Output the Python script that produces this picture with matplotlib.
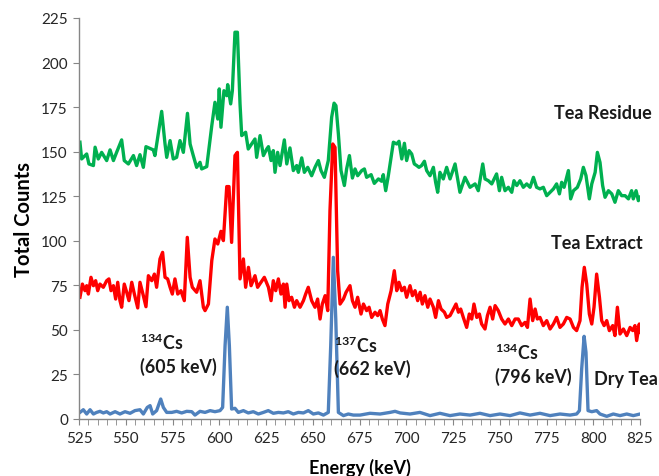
import matplotlib
matplotlib.use("Agg")
import matplotlib.pyplot as plt
from matplotlib.ticker import MultipleLocator

plt.rcParams['font.family'] = ['Lato', 'DejaVu Sans']
plt.rcParams['mathtext.fontset'] = 'custom'
plt.rcParams['mathtext.rm'] = 'Lato:bold'
plt.rcParams['mathtext.bf'] = 'Lato:bold'

# Tea Residue (green)
residue_energy = [525.5, 526.4, 529.1, 530.3, 532.7, 533.6, 535.3, 537.1, 539.8, 541.6,
                  543.4, 545.1, 547.8, 549.2, 551.4, 554.1, 555.8, 557.6, 559.4, 560.8,
                  564.7, 565.6, 569.2, 571.0, 571.9, 573.7, 575.4, 577.2, 579.0, 580.8,
                  583.0, 584.4, 586.1, 587.9, 589.7, 590.6, 593.3, 596.0, 597.7, 599.2,
                  600.0, 600.9, 602.5, 604.0, 604.5, 606.1, 607.0, 608.4, 609.7, 611.1,
                  612.0, 614.1, 615.5, 617.3, 619.1, 620.0, 621.8, 623.6, 625.4, 626.3,
                  627.7, 628.9, 629.8, 631.2, 632.5, 634.8, 636.1, 637.8, 639.6, 641.4,
                  642.3, 644.1, 645.5, 647.3, 649.4, 651.2, 653.0, 654.4, 656.2, 658.3,
                  660.1, 661.4, 662.4, 663.7, 665.1, 666.9, 668.1, 669.6, 671.2, 672.6,
                  674.0, 676.2, 677.6, 678.8, 681.2, 682.9, 685.1, 686.8, 687.7, 689.0,
                  690.4, 693.1, 694.9, 696.1, 697.6, 699.0, 700.2, 701.5, 702.9, 704.3,
                  705.6, 706.8, 708.2, 709.7, 710.9, 712.7, 714.5, 715.7, 716.8, 718.0,
                  719.8, 721.6, 723.4, 726.1, 728.7, 731.4, 734.1, 736.8, 738.5, 740.9,
                  742.1, 743.9, 745.7, 748.3, 749.8, 751.0, 752.8, 754.6, 756.4, 757.6,
                  759.1, 760.8, 762.6, 764.4, 766.2, 768.0, 769.7, 771.5, 773.3, 775.1,
                  776.9, 778.7, 780.4, 781.9, 783.1, 784.4, 786.7, 787.9, 789.4, 791.5,
                  793.3, 794.7, 796.1, 797.9, 799.2, 801.0, 802.2, 803.6, 805.0, 806.3,
                  808.1, 809.9, 811.6, 813.4, 815.2, 817.0, 818.8, 820.5, 821.4, 822.9,
                  824.1, 825.0]
residue_counts = [155.3, 145.9, 148.7, 143.1, 142.2, 152.5, 145.9, 149.6, 145.0, 151.0,
                  145.0, 149.6, 156.6, 145.0, 143.1, 147.8, 142.2, 148.3, 141.2, 152.8,
                  151.0, 147.8, 172.6, 154.3, 146.8, 156.2, 145.9, 146.8, 156.2, 149.6,
                  171.5, 154.3, 147.8, 141.2, 144.0, 140.3, 141.6, 164.6, 177.7, 168.3,
                  185.2, 163.7, 184.2, 181.4, 187.6, 176.8, 184.2, 217.0, 217.0, 176.8,
                  159.0, 160.9, 151.5, 154.3, 157.1, 146.8, 159.0, 147.8, 151.5, 152.8,
                  145.0, 150.6, 138.4, 149.6, 142.2, 156.6, 143.1, 152.1, 139.4, 142.2,
                  138.4, 146.5, 138.4, 141.2, 136.5, 141.2, 145.0, 139.4, 135.6, 145.0,
                  169.3, 177.2, 175.8, 159.9, 139.4, 131.0, 140.3, 147.8, 135.2, 140.3,
                  136.5, 139.4, 140.3, 135.6, 137.1, 132.2, 134.7, 133.4, 137.1, 128.1,
                  136.5, 155.3, 154.3, 155.8, 145.9, 154.7, 145.0, 150.6, 148.7, 143.1,
                  142.2, 141.2, 142.2, 144.6, 139.4, 136.5, 141.2, 132.8, 127.2, 138.4,
                  134.7, 141.2, 134.7, 143.1, 127.2, 135.6, 130.0, 131.9, 128.1, 143.1,
                  134.7, 133.7, 131.9, 137.5, 128.1, 135.6, 128.1, 130.0, 127.2, 133.7,
                  131.0, 133.7, 130.0, 131.9, 130.0, 135.6, 130.0, 129.1, 130.0, 125.3,
                  127.2, 129.1, 131.9, 126.3, 132.8, 130.0, 139.4, 123.5, 128.1, 130.0,
                  134.7, 141.2, 136.6, 123.5, 131.9, 138.4, 149.6, 144.0, 131.0, 124.4,
                  128.1, 126.3, 121.6, 128.1, 125.3, 125.3, 123.5, 128.1, 123.5, 128.1,
                  122.5, 124.4]

# Tea Extract (red)
extract_energy = [525.5, 526.8, 528.2, 529.1, 530.0, 531.4, 532.7, 533.9, 535.0, 536.2,
                  538.0, 539.8, 541.0, 542.1, 543.4, 544.6, 545.7, 546.9, 547.8, 549.2,
                  550.5, 551.7, 553.2, 554.6, 556.4, 557.6, 559.4, 560.8, 562.1, 563.9,
                  565.3, 566.5, 568.3, 569.7, 571.0, 572.4, 573.7, 574.9, 576.3, 577.8,
                  579.5, 581.3, 582.9, 584.4, 585.6, 587.9, 589.7, 591.5, 592.4, 594.2,
                  596.0, 597.7, 599.2, 600.9, 602.2, 604.0, 605.2, 606.6, 608.4, 609.7,
                  611.1, 612.9, 614.1, 615.6, 617.0, 619.1, 620.5, 622.3, 624.1, 626.3,
                  627.7, 628.9, 630.2, 631.6, 633.0, 634.3, 635.2, 636.1, 637.3, 638.7,
                  640.2, 641.4, 643.2, 645.0, 646.2, 647.6, 649.4, 651.2, 652.6, 653.9,
                  655.1, 656.6, 658.0, 659.2, 660.7, 661.9, 663.3, 664.6, 666.4, 667.8,
                  669.9, 671.2, 672.6, 674.0, 675.8, 677.1, 678.8, 680.1, 681.5, 683.3,
                  684.7, 686.0, 687.2, 688.6, 690.1, 691.9, 693.6, 694.9, 696.1, 697.6,
                  699.0, 700.2, 702.0, 703.3, 704.7, 706.1, 707.4, 708.6, 710.0, 711.5,
                  712.7, 714.5, 715.7, 717.2, 718.6, 720.4, 721.6, 723.4, 725.2, 726.6,
                  727.9, 729.1, 730.5, 732.3, 733.7, 735.0, 736.2, 737.7, 739.1, 740.3,
                  742.1, 743.4, 744.8, 746.2, 747.5, 749.2, 751.0, 752.8, 754.6, 756.4,
                  758.2, 759.9, 761.7, 763.5, 764.8, 766.2, 767.6, 768.9, 770.1, 771.5,
                  773.3, 775.1, 776.9, 778.7, 780.4, 782.2, 784.0, 785.8, 787.6, 789.4,
                  791.1, 792.9, 794.0, 795.2, 796.5, 797.9, 799.2, 800.4, 801.8, 803.3,
                  804.5, 805.8, 807.2, 808.6, 810.4, 811.6, 812.9, 814.3, 816.1, 817.9,
                  819.7, 821.1, 822.3, 823.2, 824.6, 825.0]
extract_counts = [68.3, 75.7, 72.0, 74.8, 70.1, 79.5, 74.8, 77.6, 72.0, 75.7,
                  73.9, 77.6, 78.6, 72.0, 74.8, 67.3, 76.7, 66.4, 62.7, 75.7,
                  71.1, 66.4, 76.7, 70.1, 62.3, 76.7, 69.2, 63.0, 80.4, 77.6,
                  81.3, 73.9, 89.8, 93.5, 79.5, 78.6, 73.9, 70.1, 78.6, 70.1,
                  72.0, 66.4, 101.9, 79.5, 73.9, 71.1, 77.6, 62.7, 60.8, 64.5,
                  88.9, 101.0, 98.2, 105.3, 100.1, 130.4, 130.4, 99.1, 147.8, 149.6,
                  78.6, 89.8, 73.9, 85.1, 74.8, 80.4, 73.9, 76.7, 79.5, 73.9,
                  66.4, 77.6, 72.0, 78.6, 70.1, 75.7, 62.7, 75.7, 66.4, 68.3,
                  62.7, 66.4, 62.7, 66.4, 70.1, 73.9, 66.4, 62.7, 67.3, 56.1,
                  64.5, 69.2, 60.8, 116.9, 154.3, 152.4, 83.2, 64.5, 67.3, 71.1,
                  74.8, 66.4, 62.7, 68.3, 58.9, 64.5, 60.8, 62.7, 57.0, 59.9,
                  58.0, 60.8, 56.1, 52.4, 64.5, 72.0, 83.2, 72.0, 76.7, 72.0,
                  73.9, 68.3, 74.8, 69.2, 72.0, 66.4, 71.1, 64.5, 69.2, 62.7,
                  67.3, 62.7, 57.0, 66.4, 61.7, 59.9, 57.0, 58.0, 61.7, 64.5,
                  59.9, 61.7, 57.0, 51.4, 58.9, 56.1, 64.5, 57.0, 58.9, 53.3,
                  50.5, 58.0, 62.7, 56.1, 63.6, 60.8, 56.1, 53.3, 56.1, 52.4,
                  56.1, 56.1, 52.4, 54.2, 51.4, 67.3, 55.2, 61.7, 56.1, 57.0,
                  52.4, 55.2, 50.5, 53.3, 57.0, 51.4, 53.3, 57.0, 56.1, 51.4,
                  49.6, 55.2, 73.9, 85.1, 75.7, 58.9, 53.3, 62.7, 81.3, 68.3,
                  55.2, 52.4, 55.2, 49.6, 52.4, 46.8, 62.7, 47.7, 50.5, 46.8,
                  51.4, 49.6, 52.4, 44.0, 53.3, 48.6]

# Dry Tea (blue)
dry_energy = [525.5, 527.3, 529.1, 530.9, 532.7, 534.4, 536.2, 538.0, 539.8, 541.6,
              544.3, 546.9, 549.6, 552.3, 554.9, 557.6, 559.4, 561.5, 563.0, 564.4,
              566.5, 568.7, 570.1, 571.9, 574.6, 577.2, 579.9, 582.6, 585.3, 587.0,
              589.7, 592.4, 595.1, 597.7, 600.4, 601.8, 603.1, 604.3, 605.4, 606.6,
              608.4, 610.2, 612.9, 615.5, 618.2, 620.9, 623.6, 626.2, 628.9, 631.6,
              634.3, 636.9, 639.6, 642.3, 645.0, 647.6, 650.3, 653.0, 655.7, 658.3,
              659.6, 661.0, 662.3, 663.7, 666.4, 669.0, 671.7, 675.3, 680.6, 686.0,
              691.3, 694.0, 696.7, 702.0, 707.3, 712.7, 718.0, 723.4, 728.7, 734.1,
              739.4, 744.8, 750.1, 755.5, 760.8, 766.2, 771.5, 776.9, 782.2, 787.6,
              791.1, 792.6, 793.8, 795.1, 796.1, 797.2, 799.2, 801.8, 803.6, 807.2,
              810.7, 814.3, 817.9, 821.4, 825.0]
dry_counts = [3.7, 5.2, 2.8, 5.2, 2.8, 3.7, 4.3, 3.4, 4.1, 2.8,
              4.1, 2.8, 4.1, 3.2, 4.7, 5.2, 2.8, 6.5, 7.5, 2.8,
              4.7, 11.2, 6.5, 3.7, 3.7, 4.3, 3.4, 4.3, 4.1, 2.2,
              4.3, 3.7, 4.7, 4.1, 4.7, 6.5, 41.1, 62.7, 41.1, 5.6,
              6.0, 3.7, 4.7, 3.4, 4.1, 2.8, 3.7, 4.7, 3.2, 3.7,
              3.4, 4.1, 2.8, 3.7, 3.4, 4.7, 2.8, 3.4, 2.2, 3.7,
              41.1, 90.7, 56.1, 3.7, 1.9, 2.8, 2.2, 2.2, 3.2, 2.8,
              3.7, 4.3, 3.4, 2.8, 3.7, 1.9, 3.2, 1.9, 2.8, 2.2,
              3.2, 1.9, 2.8, 1.9, 3.4, 2.2, 3.2, 1.9, 2.8, 2.2,
              2.8, 4.7, 28.1, 46.4, 37.4, 4.7, 4.1, 4.7, 2.8, 1.5,
              2.8, 1.9, 2.8, 1.9, 2.8]

fig = plt.figure(figsize=(6.59, 4.77), dpi=100)
ax = fig.add_axes([0.1199, 0.1195, 0.8513, 0.8407])

lw = 2.4
ax.plot(residue_energy, residue_counts, color='#00B050', lw=lw, solid_joinstyle='round')
ax.plot(extract_energy, extract_counts, color='#FF0000', lw=lw, solid_joinstyle='round')
ax.plot(dry_energy, dry_counts, color='#4F81BD', lw=lw, solid_joinstyle='round')

ax.set_xlim(525, 825)
ax.set_ylim(0, 225)
ax.xaxis.set_major_locator(MultipleLocator(25))
ax.xaxis.set_minor_locator(MultipleLocator(5))
ax.yaxis.set_major_locator(MultipleLocator(25))

for side in ['top', 'right']:
    ax.spines[side].set_visible(False)
for side in ['left', 'bottom']:
    ax.spines[side].set_color('#868686')
    ax.spines[side].set_linewidth(1.0)

ax.tick_params(axis='both', which='both', direction='out', color='#868686',
               labelsize=11, labelcolor='#262626')
ax.tick_params(axis='x', which='both', length=4, pad=5)
ax.tick_params(axis='y', which='major', length=4, pad=4)

ax.set_xlabel('Energy (keV)', fontsize=13, fontweight='bold', labelpad=9)
ax.set_ylabel('Total Counts', fontsize=14.5, fontweight='bold', labelpad=5)

txt = dict(fontsize=13, fontweight='bold', color='#1a1a1a', ha='center', va='center')
ax.text(805, 172, 'Tea Residue', **txt)
ax.text(802, 99, 'Tea Extract', **txt)
ax.text(817.5, 23, 'Dry Tea', clip_on=False, **txt)

lab = dict(fontsize=12.8, fontweight='bold', color='#1a1a1a', ha='left', va='center')
ax.text(557.5, 43.2, r'$^{134}$Cs', **lab)
ax.text(557.5, 29.7, '(605 keV)', **lab)
ax.text(661.5, 41.5, r'$^{137}$Cs', **lab)
ax.text(661.5, 28.6, '(662 keV)', **lab)
ax.text(747.3, 37.6, r'$^{134}$Cs', **lab)
ax.text(747.3, 24.1, '(796 keV)', **lab)

fig.savefig('out.png', dpi=100)
